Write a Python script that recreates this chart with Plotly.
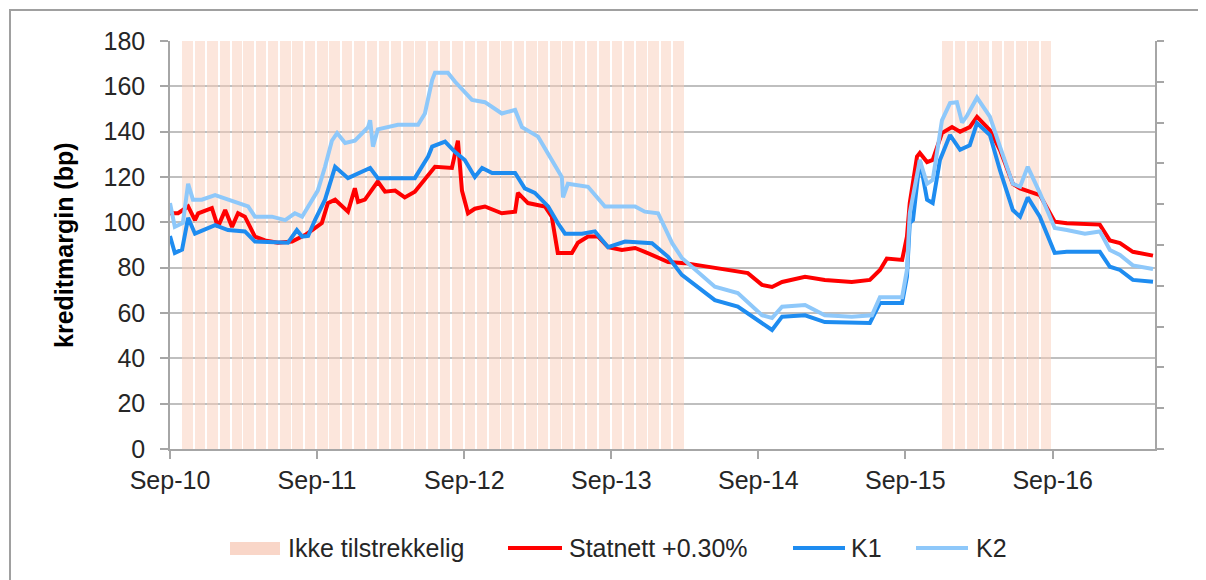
import plotly.graph_objects as go
import pandas as pd

# ---------------- data ----------------
k1_dates = ["2010-09-01","2010-09-13","2010-10-01","2010-10-16","2010-11-02","2010-12-22","2011-01-23","2011-03-06",
            "2011-03-31","2011-05-20","2011-06-21","2011-07-13","2011-07-26","2011-08-10","2011-08-27","2011-09-21",
            "2011-10-16","2011-11-17","2011-12-22","2012-01-11","2012-01-30","2012-03-20","2012-05-01","2012-06-03",
            "2012-06-13","2012-07-15","2012-08-09","2012-09-02","2012-09-27","2012-10-15","2012-11-09","2013-01-05",
            "2013-01-29","2013-02-23","2013-03-28","2013-04-21","2013-05-09","2013-06-20","2013-07-22","2013-08-24",
            "2013-10-05","2013-12-11","2014-01-20","2014-02-23","2014-04-14","2014-05-16","2014-07-12","2014-08-31",
            "2014-10-05","2014-10-30","2014-12-26","2015-02-13","2015-04-21","2015-06-05","2015-06-30","2015-08-24",
            "2015-09-05","2015-09-12","2015-09-20","2015-10-07","2015-10-25","2015-11-08","2015-11-26","2015-12-21",
            "2016-01-15","2016-02-08","2016-02-26","2016-03-29","2016-04-23","2016-05-25","2016-06-12","2016-07-01",
            "2016-07-31","2016-09-06","2016-10-06","2016-12-27","2017-01-21","2017-02-15","2017-03-19","2017-05-08"]
k1_values = [94,86.5,88,102,95,98.8,96.6,96,
             91.5,91,91,96.6,93.7,94,101,110,
             124.5,119.5,122.3,124,119.5,119.5,119.5,129,
             133.4,135.6,131,127.5,120,124,121.8,121.8,
             115,113,107,99.7,95,95,96,89,
             91.5,90.8,84.8,76.8,70,65.7,62.8,57,
             52.5,58.4,59,56,55.6,55.6,64.4,64.4,
             76,99.7,101,127.5,110,108.5,127.5,138.5,
             132,134,143.8,138.5,123,105.4,102.5,111,
             102.5,86.5,87,87,80.4,79,74.6,73.8]

k2_dates = ["2010-09-01","2010-09-13","2010-10-03","2010-10-16","2010-10-28","2010-11-19","2010-12-22","2011-01-23",
            "2011-02-27","2011-03-14","2011-03-31","2011-05-12","2011-06-14","2011-07-08","2011-07-26","2011-08-20",
            "2011-09-03","2011-09-21","2011-10-08","2011-10-21","2011-11-10","2011-12-04","2012-01-06","2012-01-11",
            "2012-01-18","2012-01-30","2012-03-20","2012-05-09","2012-05-26","2012-06-13","2012-06-20","2012-07-22",
            "2012-08-09","2012-09-20","2012-10-22","2012-12-03","2013-01-05","2013-01-22","2013-03-03","2013-04-06",
            "2013-05-01","2013-05-04","2013-05-16","2013-07-05","2013-08-16","2013-10-30","2013-11-23","2013-12-26",
            "2014-01-30","2014-02-23","2014-04-14","2014-05-16","2014-07-12","2014-09-10","2014-10-05","2014-10-30",
            "2014-12-26","2015-02-13","2015-04-21","2015-06-10","2015-06-30","2015-08-24","2015-09-05","2015-09-12",
            "2015-10-07","2015-10-25","2015-11-08","2015-12-01","2015-12-21","2016-01-07","2016-01-20","2016-02-01",
            "2016-02-26","2016-03-29","2016-04-23","2016-05-25","2016-06-12","2016-07-01","2016-07-31","2016-09-06",
            "2016-10-06","2016-11-20","2016-12-27","2017-01-21","2017-02-15","2017-03-19","2017-05-08"]
k2_values = [108.5,98,99.7,117,110,110,112,110,
             107.6,107,102.5,102.5,101,104,102.5,110,
             114,124.5,136,139.4,135,136,142,145,
             133.4,141,143,143,148,162.8,166,166,
             162,154,153,148,149.6,142,137.8,127.5,
             120,111,117,115.7,107,107,104.7,104,
             90.8,84.3,76.8,71.6,68.8,59,57.8,62.8,
             63.5,59,58.4,59,67,67,79,104,
             127.5,117,118.7,145,152.6,153,144,147,
             155,146.6,133.4,117,115.7,124.5,113,97.5,
             96.6,95,96,87.8,85.6,81,79.4]

statnett_dates = ["2010-09-01","2010-09-21","2010-10-16","2010-11-02","2010-11-10","2010-12-14","2010-12-29","2011-01-16",
                  "2011-02-02","2011-02-17","2011-03-06","2011-03-31","2011-04-25","2011-05-27","2011-07-01","2011-08-02",
                  "2011-08-20","2011-09-13","2011-09-28","2011-10-16","2011-11-17","2011-12-04","2011-12-12","2011-12-29",
                  "2012-01-30","2012-02-17","2012-03-13","2012-04-06","2012-05-01","2012-05-26","2012-06-20","2012-08-01",
                  "2012-08-16","2012-08-26","2012-09-10","2012-09-27","2012-10-22","2012-12-03","2013-01-05","2013-01-12",
                  "2013-02-06","2013-03-20","2013-04-06","2013-04-21","2013-05-26","2013-06-10","2013-07-05","2013-07-30",
                  "2013-08-24","2013-09-27","2013-10-30","2013-11-23","2013-12-26","2014-01-20","2014-03-03","2014-04-29",
                  "2014-06-10","2014-08-06","2014-09-10","2014-10-05","2014-10-30","2014-12-26","2015-02-13","2015-04-21",
                  "2015-06-05","2015-06-30","2015-07-17","2015-08-24","2015-09-05","2015-09-12","2015-09-30","2015-10-07",
                  "2015-10-25","2015-11-08","2015-12-01","2015-12-26","2016-01-15","2016-02-08","2016-02-26","2016-03-29",
                  "2016-04-23","2016-05-25","2016-06-12","2016-07-01","2016-07-31","2016-09-06","2016-10-06","2016-12-27",
                  "2017-01-21","2017-02-15","2017-03-19","2017-05-08"]
statnett_values = [104,104,107,101,104,106.3,98,105.4,
                   98,104,102.5,93.7,92,91,91.5,94.4,
                   96.6,99.7,108.5,110,104.7,115,109,110,
                   118,113.5,114,111,113.5,118.7,124.5,124,
                   136,114,104,106,107,104,104.7,113,
                   108.5,107,102.5,86.5,86.5,91,93.7,93.7,
                   89,87.8,88.7,87,84.3,82.5,82,80.3,
                   79.4,77.6,72.4,71.5,73.7,76,74.6,73.7,
                   74.6,79,84,83.4,93.7,108.5,129,130.6,
                   126.6,127.5,139.4,142,140,142,146.5,140.7,
                   132,117,115,114,112,100.3,99.6,99,
                   92,90.8,87,85.3]

# periods flagged "Ikke tilstrekkelig" (first month, last month)
shade_periods = [("2010-10", "2014-02"), ("2015-12", "2016-08")]

x_range = ["2010-09-01", "2017-05-13"]
y_ticks = [0, 20, 40, 60, 80, 100, 120, 140, 160, 180]

# ---------------- style ----------------
FONT = "Liberation Sans, Arial, sans-serif"
FS = 25
TXT = "#262626"
GRID = "#BFBFBF"
AXC = "#A6A6A6"
RED = "#FF0000"
K1C = "#1E8CF0"
K2C = "#8EC8FA"
SHADE = "rgba(249,205,185,0.5)"
SHADE_LEG = "#F9D6C8"

shade_months = []
for a, b in shade_periods:
    shade_months += list(pd.period_range(a, b, freq="M"))
bar_x = [(p.to_timestamp() + pd.Timedelta(days=14)).strftime("%Y-%m-%d") for p in shade_months]
bar_y = [180] * len(bar_x)
day_ms = 86400000

fig = go.Figure()
fig.add_trace(go.Bar(x=bar_x, y=bar_y, width=[26 * day_ms] * len(bar_x),
                     marker=dict(color=SHADE, line=dict(width=0)),
                     name="Ikke tilstrekkelig", showlegend=False, yaxis="y"))
for name, xs, ys, col in [("Statnett +0.30%", statnett_dates, statnett_values, RED),
                          ("K1", k1_dates, k1_values, K1C),
                          ("K2", k2_dates, k2_values, K2C)]:
    fig.add_trace(go.Scatter(x=xs, y=ys, mode="lines", name=name, yaxis="y2",
                             line=dict(color=col, width=4), showlegend=False))

OFF = 8  # page body margin
W, H = 1198, 572
L, T = 162, 33
pw, ph = 985, 408
R = W - L - pw
B = H - T - ph


def px(xpage):
    return (xpage - OFF - L) / pw


def py(ypage):
    return (OFF + T + ph - ypage) / ph


fig.update_layout(
    width=W, height=H,
    margin=dict(l=L, r=R, t=T, b=B),
    paper_bgcolor="white", plot_bgcolor="white",
    font=dict(family=FONT, size=FS, color=TXT),
    bargap=0,
    showlegend=False,
    xaxis=dict(type="date", range=x_range, tick0="2010-09-01", dtick="M12", tickformat="%b-%y",
               ticks="outside", ticklen=8, tickcolor=AXC, tickwidth=1.5,
               showline=True, linecolor=AXC, linewidth=1.5, showgrid=False, zeroline=False,
               tickfont=dict(size=FS, color=TXT)),
    yaxis=dict(range=[0, 180], tickvals=y_ticks, ticks="outside", ticklen=8, tickcolor=AXC, tickwidth=1.5,
               showline=True, linecolor=AXC, linewidth=1.5, gridcolor=GRID, gridwidth=1.5,
               zeroline=False, ticklabelstandoff=10, tickfont=dict(size=FS, color=TXT)),
    yaxis2=dict(range=[0, 180], overlaying="y", side="right", dtick=18, tick0=0,
                ticks="outside", ticklen=7, tickcolor=AXC, tickwidth=1.5,
                showticklabels=False, showgrid=False, zeroline=False,
                showline=True, linecolor=AXC, linewidth=2),
)

shapes = [
    dict(type="rect", xref="paper", yref="paper", x0=px(10), x1=px(1300), y0=py(700), y1=py(10),
         line=dict(color="#A0A0A0", width=2), fillcolor="rgba(0,0,0,0)", layer="below"),
    dict(type="rect", xref="paper", yref="paper", x0=px(230), x1=px(280), y0=py(555), y1=py(542),
         line=dict(width=0), fillcolor=SHADE_LEG),
    dict(type="line", xref="paper", yref="paper", x0=px(508), x1=px(562), y0=py(548), y1=py(548),
         line=dict(color=RED, width=4)),
    dict(type="line", xref="paper", yref="paper", x0=px(793), x1=px(845), y0=py(548), y1=py(548),
         line=dict(color=K1C, width=4)),
    dict(type="line", xref="paper", yref="paper", x0=px(916), x1=px(968), y0=py(548), y1=py(548),
         line=dict(color=K2C, width=4)),
]
annotations = [
    dict(text="<b>kreditmargin (bp)</b>", xref="paper", yref="paper", x=px(64), y=0.5, textangle=-90,
         showarrow=False, font=dict(size=FS, color="#000000"), xanchor="center", yanchor="middle"),
]
for txt, xl in [("Ikke tilstrekkelig", 286), ("Statnett +0.30%", 567), ("K1", 849), ("K2", 974)]:
    annotations.append(dict(text=txt, xref="paper", yref="paper", x=px(xl), y=py(548),
                            xanchor="left", yanchor="middle", showarrow=False,
                            font=dict(size=FS, color=TXT)))
fig.update_layout(shapes=shapes, annotations=annotations)

fig.write_html("out.html")
